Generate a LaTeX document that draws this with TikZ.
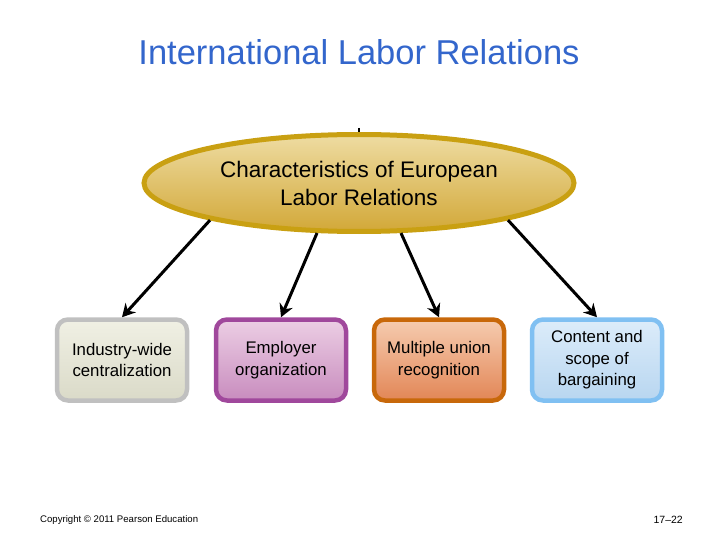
\documentclass[tikz,border=0pt]{standalone}
\usepackage{fontspec}
\setmainfont{Liberation Sans}
\usepackage{tikz}
\usetikzlibrary{shapes.geometric,arrows.meta}
\definecolor{titleblue}{RGB}{51, 102, 204}
\definecolor{goldline}{RGB}{201, 160, 18}
\definecolor{goldtop}{RGB}{238, 220, 162}
\definecolor{goldbot}{RGB}{210, 168, 56}
\definecolor{grayline}{RGB}{192, 192, 192}
\definecolor{purpleline}{RGB}{160, 72, 156}
\definecolor{orangeline}{RGB}{200, 104, 10}
\definecolor{blueline}{RGB}{128, 192, 242}

\begin{document}
\begin{tikzpicture}[x=1pt,y=1pt,yscale=-1,xscale=1,
  topic/.style={rounded corners=11pt, line width=4.5pt, minimum width=130pt, minimum height=81pt,
    align=center, inner sep=0pt, font=\fontsize{16.8}{21.5}\selectfont},
  link/.style={line width=3pt, -{Stealth[length=13pt,width=14pt]}}]
\path[use as bounding box] (0,0) rectangle (720,540);

% Title
\node (title) at (359,52) [text=titleblue, font=\fontsize{34.5}{40}\selectfont] {International Labor Relations};

% Ellipse
\node (hub) at (359,183) [ellipse, draw=goldline, line width=5pt, top color=goldtop, bottom color=goldbot,
  minimum width=430pt, minimum height=97pt, inner sep=0pt, align=center,
  font=\fontsize{22.5}{28}\selectfont] {Characteristics of European\\Labor Relations};
% small stub on top
\coordinate (stub) at (359,128);
\draw [line width=1.5pt] (stub) -- (hub.north);

% Boxes
\node (central) at (122,360) [topic, draw=grayline, top color={rgb,255:red,240;green,240;blue,228}, bottom color={rgb,255:red,218;green,218;blue,200}] {Industry-wide\\centralization};
\node (employer) at (281,360) [topic, draw=purpleline, top color={rgb,255:red,236;green,206;blue,228}, bottom color={rgb,255:red,200;green,140;blue,190}] {Employer\\organization};
\node (union) at (439,360) [topic, draw=orangeline, top color={rgb,255:red,246;green,204;blue,176}, bottom color={rgb,255:red,226;green,134;blue,86}] {Multiple union\\recognition};
\node (scope) at (597,360) [topic, draw=blueline, top color={rgb,255:red,220;green,236;blue,250}, bottom color={rgb,255:red,184;green,214;blue,240}] {Content and\\scope of\\bargaining};

% Arrows
\draw [link] (hub.194) -- (central.north);
\draw [link] (hub.230) -- (employer.north);
\draw [link] (hub.310) -- (union.north);
\draw [link] (hub.346) -- (scope.north);

% Footer
\node (copy) at (40,520) [anchor=west, inner sep=0pt, font=\fontsize{9.6}{11}\selectfont] {Copyright © 2011 Pearson Education};
\node (page) at (683,520) [anchor=east, inner sep=0pt, font=\fontsize{10.5}{11}\selectfont] {17–22};

\end{tikzpicture}
\end{document}
